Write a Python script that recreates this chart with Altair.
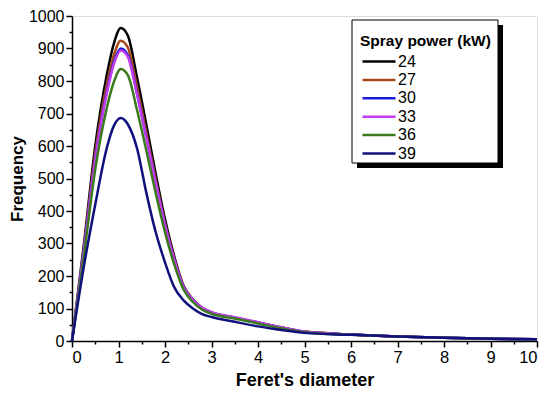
import altair as alt
import pandas as pd

# Feret's diameter sample positions
diameter = [0, 0.25, 0.5, 0.75, 0.9, 1.05, 1.2, 1.4, 1.6, 1.8, 2.0, 2.2, 2.4, 2.6,
            2.8, 3.0, 3.5, 4.0, 4.5, 5.0, 6.0, 7.0, 8.0, 9.0, 10.0]

powers = ["24", "27", "30", "33", "36", "39"]

freq_24 = [0, 290, 600, 820, 915, 963, 940, 810, 665, 515, 375, 260, 170, 128,
           102, 88, 72, 57, 42, 29, 20, 14, 10, 7, 5]
freq_27 = [0, 280, 578, 790, 880, 924, 903, 780, 640, 497, 362, 252, 166, 126,
           101, 88, 72, 57, 42, 29, 20, 14, 10, 7, 5]
freq_30 = [0, 272, 562, 768, 858, 900, 880, 760, 625, 487, 356, 249, 165, 125,
           100, 87, 71, 56, 41, 28, 20, 14, 10, 7, 5]
freq_33 = [0, 270, 558, 763, 852, 894, 874, 757, 624, 487, 357, 250, 166, 127,
           102, 89, 73, 58, 42, 29, 20, 14, 10, 7, 5]
freq_36 = [0, 255, 528, 718, 797, 837, 818, 710, 585, 455, 335, 235, 158, 120,
           96, 84, 69, 54, 39, 27, 19, 14, 10, 7, 5]
freq_39 = [0, 225, 420, 595, 662, 686, 667, 592, 455, 335, 242, 165, 125, 100,
           83, 74, 59, 45, 34, 25, 19, 14, 10, 7, 5]

series = [freq_24, freq_27, freq_30, freq_33, freq_36, freq_39]
colors = ["#000000", "#a84a1c", "#1a1ad8", "#c23cf2", "#3b7a1c", "#11117e"]

rows = []
for i, (p, ys) in enumerate(zip(powers, series)):
    for x, y in zip(diameter, ys):
        rows.append({"d": x, "f": y, "power": p, "ord": i})
df = pd.DataFrame(rows)

FONT = "Liberation Sans"

x_ticks = [v / 2 for v in range(0, 21)]
y_ticks = list(range(0, 1001, 50))

x_axis = alt.Axis(
    values=x_ticks,
    labelExpr="datum.value % 1 === 0 ? format(datum.value, 'd') : ''",
    tickSize={"condition": {"test": "datum.value % 1 !== 0", "value": 3}, "value": 6},
    labelOverlap=False,
    grid=False,
    domainColor="black", domainWidth=1.5,
    tickColor="black", tickWidth=1.5,
    labelFont=FONT, labelFontSize=16.5, labelColor="black", labelPadding=2,
    title="Feret's diameter",
    titleFont=FONT, titleFontSize=18, titleFontWeight="bold", titleColor="black",
    titlePadding=6,
)
y_axis = alt.Axis(
    values=y_ticks,
    labelExpr="datum.value % 100 === 0 ? format(datum.value, 'd') : ''",
    tickSize={"condition": {"test": "datum.value % 100 !== 0", "value": 3}, "value": 6},
    labelOverlap=False,
    grid=False,
    domainColor="black", domainWidth=1.5,
    tickColor="black", tickWidth=1.5,
    labelFont=FONT, labelFontSize=16, labelColor="black", labelPadding=2,
    title="Frequency",
    titleFont=FONT, titleFontSize=17, titleFontWeight="bold", titleColor="black",
    titlePadding=2,
)

lines = alt.Chart(df).mark_line(interpolate="monotone", strokeWidth=2.5).encode(
    x=alt.X("d:Q", scale=alt.Scale(domain=[0, 10], nice=False, zero=False), axis=x_axis),
    y=alt.Y("f:Q", scale=alt.Scale(domain=[0, 1000], nice=False), axis=y_axis),
    color=alt.Color(
        "power:N",
        scale=alt.Scale(domain=powers, range=colors),
        legend=alt.Legend(
            title="Spray power (kW)",
            orient="none", legendX=279, legendY=9,
            padding=9,
            symbolType="M-1,0H5", symbolSize=121, symbolStrokeWidth=2.5,
            labelFont=FONT, labelFontSize=16, labelColor="black", labelOffset=22,
            titleFont=FONT, titleFontSize=15.5, titleFontWeight="bold", titleColor="black",
            titlePadding=4, rowPadding=2.4,
        ),
    ),
    order="ord:Q",
)

# legend frame with drop shadow (decoration)
shadow = alt.Chart(pd.DataFrame({"a": [0]})).mark_rect(color="black").encode(
    x=alt.value(285), x2=alt.value(431), y=alt.value(9), y2=alt.value(152)
)
frame = alt.Chart(pd.DataFrame({"a": [0]})).mark_rect(
    fill="white", stroke="black", strokeWidth=1
).encode(
    x=alt.value(280), x2=alt.value(426), y=alt.value(4), y2=alt.value(147)
)

chart = alt.layer(shadow, frame, lines).properties(
    width=465, height=325,
    autosize=alt.AutoSizeParams(type="none"),
    padding={"left": 64, "top": 8, "right": 5, "bottom": 50},
).configure_view(stroke="black", strokeWidth=1.5).configure(background="white")

chart.save("out.html", embed_options={"renderer": "svg", "actions": False})
